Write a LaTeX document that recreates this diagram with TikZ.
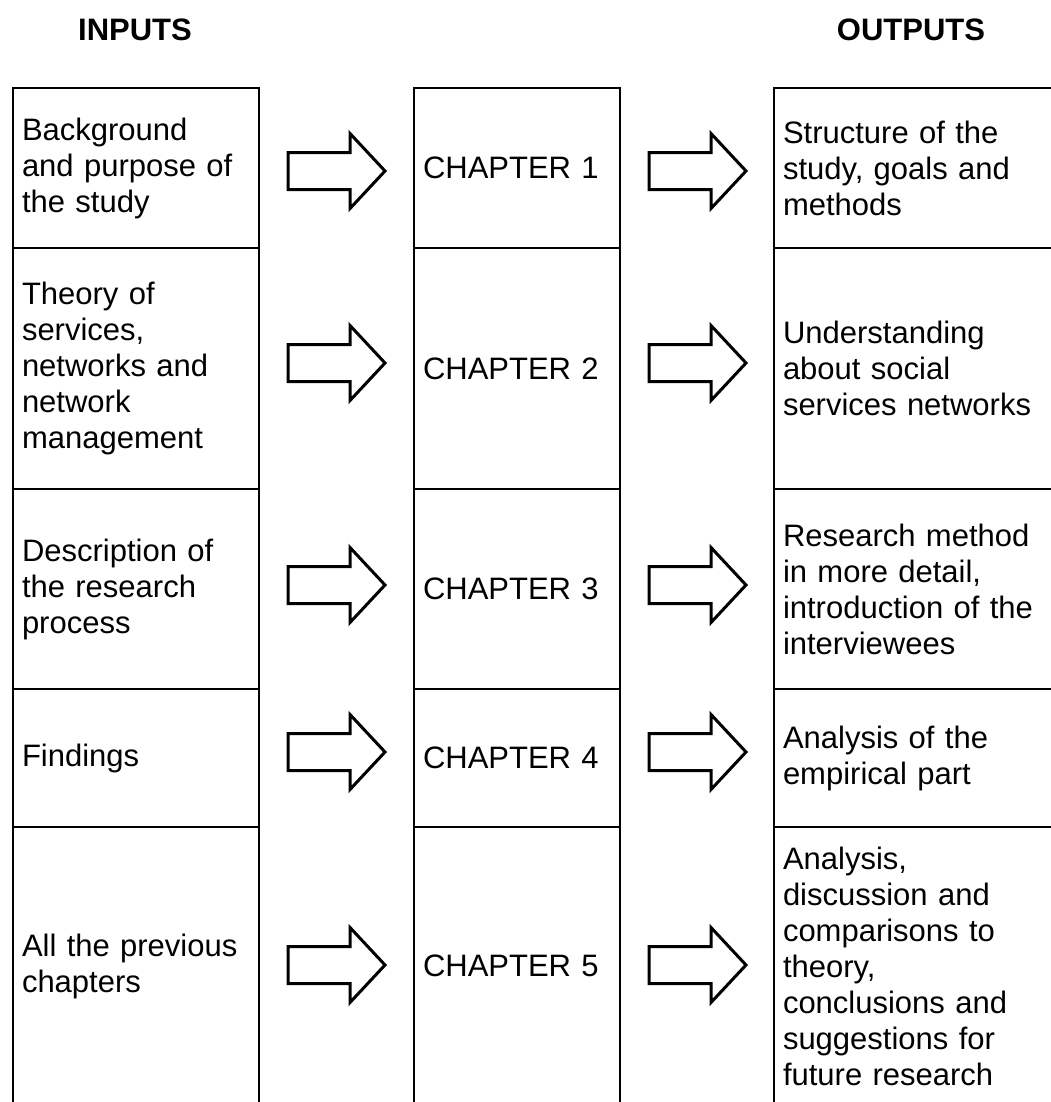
\documentclass[tikz,border=0pt]{standalone}
\usepackage{fontspec}
\setmainfont{Liberation Sans}
\usetikzlibrary{calc}
\begin{document}
\begin{tikzpicture}[x=0.5pt,y=-0.5pt,
  cell/.style={draw=black, line width=1pt, rectangle, inner xsep=4.5pt, inner ysep=0pt,
    align=left, font=\fontsize{15.5pt}{18pt}\selectfont},
  leftcell/.style={cell, minimum width=123pt, text width=114pt},
  midcell/.style={cell, minimum width=103pt, text width=94pt},
  rightcell/.style={cell, minimum width=140pt, text width=131pt},
  head/.style={anchor=base, font=\fontsize{15.5pt}{18pt}\selectfont\bfseries},
  arrowline/.style={draw=black, line width=1.5pt, line join=miter, fill=white},
  blockarr/.pic={\draw[arrowline] (0,-18.5) -- (62,-18.5) -- (62,-37.5) -- (97,0) -- (62,37.5) -- (62,18.5) -- (0,18.5) -- cycle;}
]
\useasboundingbox (0,0) rectangle (1050,1102);

\node[head] (inputs) at (135,41) {INPUTS};
\node[head] (outputs) at (911,41) {OUTPUTS};

% left column
\node[leftcell, minimum height=80pt] (in1) at (136,168) {Background\\and purpose of\\the study};
\node[leftcell, minimum height=120.5pt] (in2) at (136,368.5) {Theory of\\services,\\networks and\\network\\management};
\node[leftcell, minimum height=100pt] (in3) at (136,589) {Description of\\the research\\process};
\node[leftcell, minimum height=69pt] (in4) at (136,758) {Findings};
\node[leftcell, minimum height=139pt] (in5) at (136,966) {All the previous\\chapters};

% middle column
\node[midcell, minimum height=80pt] (ch1) at (517,168) {CHAPTER 1};
\node[midcell, minimum height=120.5pt] (ch2) at (517,368.5) {CHAPTER 2};
\node[midcell, minimum height=100pt] (ch3) at (517,589) {CHAPTER 3};
\node[midcell, minimum height=69pt] (ch4) at (517,758) {CHAPTER 4};
\node[midcell, minimum height=139pt] (ch5) at (517,966) {CHAPTER 5};

% right column
\node[rightcell, minimum height=80pt] (out1) at (914,168) {Structure of the\\study, goals and\\methods};
\node[rightcell, minimum height=120.5pt] (out2) at (914,368.5) {Understanding\\about social\\services networks};
\node[rightcell, minimum height=100pt] (out3) at (914,589) {Research method\\in more detail,\\introduction of the\\interviewees};
\node[rightcell, minimum height=69pt] (out4) at (914,758) {Analysis of the\\empirical part};
\node[rightcell, minimum height=139pt] (out5) at (914,966) {Analysis,\\discussion and\\comparisons to\\theory,\\conclusions and\\suggestions for\\future research};

% block arrows
\foreach \r/\dy in {1/3,2/-5.5,3/-4,4/-6,5/-1}{
  \pic at ($(in\r.east)+(28,\dy)$) {blockarr};
  \pic at ($(ch\r.east)+(28,\dy)$) {blockarr};
}
\end{tikzpicture}
\end{document}
